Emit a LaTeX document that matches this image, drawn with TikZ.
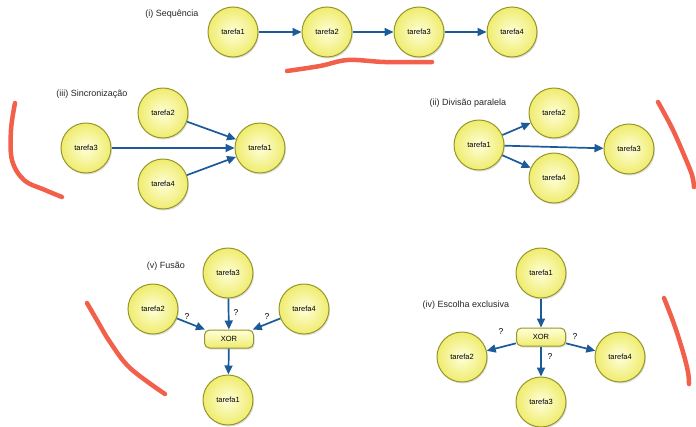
\documentclass[tikz,border=0pt]{standalone}
\usepackage{fontspec}
\setmainfont{Liberation Sans}
\usetikzlibrary{arrows.meta,shadows}
\definecolor{flowblue}{HTML}{1C5A9A}
\definecolor{ballfill}{HTML}{EFEC6E}
\definecolor{ballcore}{HTML}{FFFFDA}
\definecolor{ballrim}{HTML}{96962A}
\definecolor{penred}{HTML}{F2604C}
\tikzset{
  task/.style={circle, minimum size=50pt, inner sep=0pt, draw=ballrim, line width=1pt,
    inner color=ballcore, outer color=ballfill, font=\fontsize{7.5}{9}\selectfont,
    drop shadow={shadow xshift=1pt, shadow yshift=-1.5pt, opacity=0.25}},
  gate/.style={rectangle, rounded corners=5pt, minimum width=49pt, minimum height=18pt,
    inner sep=0pt, draw=ballrim, line width=1pt, top color=ballcore, bottom color=ballfill,
    font=\fontsize{7.5}{9}\selectfont,
    drop shadow={shadow xshift=1pt, shadow yshift=-1.5pt, opacity=0.25}},
  flow/.style={draw=flowblue, line width=1.7pt, -{Triangle[length=9pt,width=8pt]}},
  caption/.style={font=\fontsize{9}{10}\selectfont, text=black!85},
  qmark/.style={font=\fontsize{8.5}{9}\selectfont},
  scribble/.style={penred, line width=4.5pt, line cap=round, line join=round},
}
\begin{document}
\begin{tikzpicture}[x=1pt, y=-1pt]
\useasboundingbox (0,0) rectangle (696,426);
\fill[white] (0,0) rectangle (696,426);

% (i) sequence
\node[caption] (capA) at (172,14) {(i) Sequência};
\node[task] (a1) at (233,32) {tarefa1};
\node[task] (a2) at (327,32) {tarefa2};
\node[task] (a3) at (419,32) {tarefa3};
\node[task] (a4) at (512,32) {tarefa4};
\draw[flow] (a1) -- (a2);
\draw[flow] (a2) -- (a3);
\draw[flow] (a3) -- (a4);

% (iii) synchronisation
\node[caption] (capB) at (92,94) {(iii) Sincronização};
\node[task] (b2) at (163,113) {tarefa2};
\node[task] (b3) at (86,148) {tarefa3};
\node[task] (b1) at (260,148) {tarefa1};
\node[task] (b4) at (163,184) {tarefa4};
\draw[flow] (b2) -- (b1);
\draw[flow] (b3) -- (b1);
\draw[flow] (b4) -- (b1);

% (ii) parallel split
\node[caption] (capC) at (468,103) {(ii) Divisão paralela};
\node[task] (c2) at (554,113) {tarefa2};
\node[task] (c1) at (479,145) {tarefa1};
\node[task] (c3) at (629,149) {tarefa3};
\node[task] (c4) at (554,178) {tarefa4};
\draw[flow] (c1) -- (c2);
\draw[flow] (c1) -- (c3);
\draw[flow] (c1) -- (c4);

% (v) merge
\node[caption] (capD) at (166,266) {(v) Fusão};
\node[task] (d3) at (228,273) {tarefa3};
\node[task] (d2) at (153,309) {tarefa2};
\node[task] (d4) at (304,309) {tarefa4};
\node[gate] (dx) at (229,339) {XOR};
\node[task] (d1) at (228,400) {tarefa1};
\draw[flow] (d2) -- (dx);
\draw[flow] (d3) -- (dx);
\draw[flow] (d4) -- (dx);
\draw[flow] (dx) -- (d1);
\node[qmark] (dq2) at (187,317) {?};
\node[qmark] (dq3) at (236,313) {?};
\node[qmark] (dq4) at (267,317) {?};

% (iv) exclusive choice
\node[caption] (capE) at (466,305) {(iv) Escolha exclusiva};
\node[task] (e1) at (541,273) {tarefa1};
\node[gate] (ex) at (541,337) {XOR};
\node[task] (e2) at (462,357) {tarefa2};
\node[task] (e4) at (620,357) {tarefa4};
\node[task] (e3) at (541,402) {tarefa3};
\draw[flow] (e1) -- (ex);
\draw[flow] (ex) -- (e2);
\draw[flow] (ex) -- (e4);
\draw[flow] (ex) -- (e3);
\node[qmark] (eq2) at (501,332) {?};
\node[qmark] (eq4) at (575,337) {?};
\node[qmark] (eq3) at (550,357) {?};

% hand-drawn pen marks
\draw[scribble] plot[smooth, tension=0.6] coordinates {(287,71) (320,66) (348,60) (385,62) (432,62)};
\draw[scribble] plot[smooth, tension=0.6] coordinates {(15,103) (11,130) (12,160) (24,180) (45,190) (62,197)};
\draw[scribble] plot[smooth, tension=0.6] coordinates {(658,102) (672,128) (684,155) (692,175) (694,187)};
\draw[scribble] plot[smooth, tension=0.6] coordinates {(87,303) (98,322) (110,342) (130,368) (165,394)};
\draw[scribble] plot[smooth, tension=0.6] coordinates {(664,298) (674,324) (683,352) (688,372) (689,384)};
\end{tikzpicture}
\end{document}
